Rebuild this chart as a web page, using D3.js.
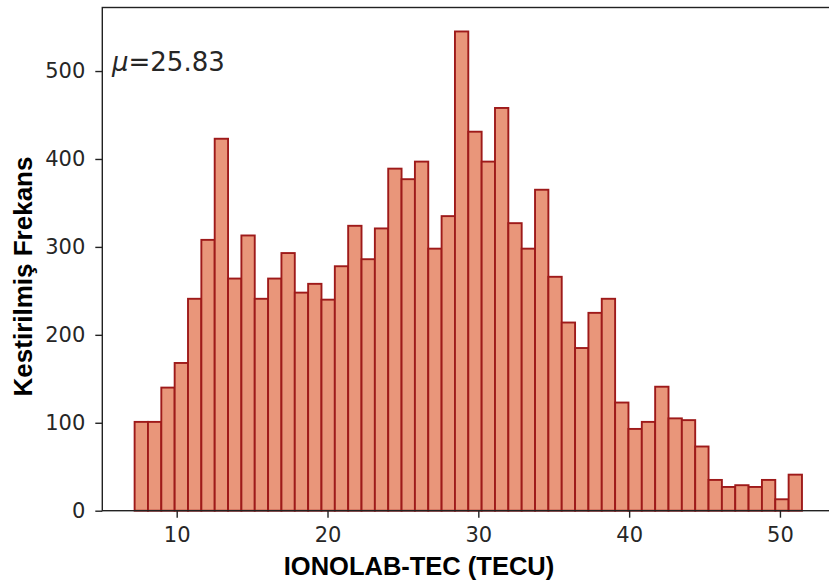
<!DOCTYPE html>
<html>
<head>
<meta charset="utf-8">
<script src="https://cdn.jsdelivr.net/npm/d3@7"></script>
<style>
  html, body { margin: 0; padding: 0; background: #fff; }
  svg { display: block; }
</style>
</head>
<body>
<svg id="chart" width="829" height="583"></svg>
<script>
// ---- data ----
const binStart = 7.21;
const binWidth = 0.885;
const counts = [101, 101, 140, 168, 241, 308, 423, 264, 313, 241,
                264, 293, 248, 258, 240, 278, 324, 286, 321, 389,
                377, 397, 298, 335, 545, 431, 397, 458, 327, 298,
                365, 266, 214, 185, 225, 241, 123, 93, 101, 141,
                105, 103, 73, 35, 27, 29, 27, 35, 13, 41];
const xTicks = [10, 20, 30, 40, 50];
const yTicks = [0, 100, 200, 300, 400, 500];
const meanLabel = "25.83";
const xLabel = "IONOLAB-TEC (TECU)";
const yLabel = "Kestirilmiş Frekans";

const bins = counts.map((c, i) => ({x0: binStart + i * binWidth, x1: binStart + (i + 1) * binWidth, n: c}));

// ---- layout ----
const mLeft = 102.3, mRight = 835, mTop = 7.5, mBottom = 510.7;
const svg = d3.select("#chart");

const x = d3.scaleLinear().domain([5.067, 53.65]).range([mLeft, mRight]);
const y = d3.scaleLinear().domain([0, d3.max(counts) * 1.05]).range([mBottom, mTop]);

// bars
svg.append("g").selectAll("rect").data(bins).join("rect")
  .attr("x", d => x(d.x0))
  .attr("y", d => y(d.n))
  .attr("width", d => x(d.x1) - x(d.x0))
  .attr("height", d => y(0) - y(d.n))
  .attr("fill", "#E9967A")
  .attr("stroke", "#9e1a1a")
  .attr("stroke-width", 1.9);

// axes
const tickColor = "#262626";
const xAxis = d3.axisBottom(x).tickValues(xTicks).tickSize(7).tickPadding(9).tickFormat(d3.format("d"));
const gx = svg.append("g").attr("transform", `translate(0,${mBottom})`).call(xAxis);
const yAxis = d3.axisLeft(y).tickValues(yTicks).tickSize(7).tickPadding(10).tickFormat(d3.format("d"));
const gy = svg.append("g").attr("transform", `translate(${mLeft},0)`).call(yAxis);

[gx, gy].forEach(g => {
  g.select(".domain").remove();
  g.selectAll(".tick line").attr("stroke", "#222").attr("stroke-width", 1.4);
  g.selectAll(".tick text")
    .attr("fill", tickColor)
    .style("font-family", "'DejaVu Sans', sans-serif")
    .style("font-size", "21px");
});
gx.selectAll(".tick text").attr("dy", "0.71em");

// spines
svg.append("rect")
  .attr("x", mLeft).attr("y", mTop)
  .attr("width", mRight - mLeft).attr("height", mBottom - mTop)
  .attr("fill", "none").attr("stroke", "#222").attr("stroke-width", 1.4);

// mean annotation
const mt = svg.append("text")
  .attr("x", 112).attr("y", 71)
  .attr("fill", tickColor)
  .style("font-family", "'DejaVu Sans', sans-serif")
  .style("font-size", "26px");
mt.append("tspan").style("font-style", "italic").text("μ");
mt.append("tspan").text("=" + meanLabel);

// axis labels
svg.append("text")
  .attr("x", 419).attr("y", 575)
  .attr("text-anchor", "middle")
  .attr("fill", "#000")
  .style("font-family", "'Liberation Sans', Arial, sans-serif")
  .style("font-weight", "bold")
  .style("font-size", "25.5px")
  .text(xLabel);

svg.append("text")
  .attr("transform", "translate(32,276.5) rotate(-90)")
  .attr("text-anchor", "middle")
  .attr("fill", "#000")
  .style("font-family", "'Liberation Sans', Arial, sans-serif")
  .style("font-weight", "bold")
  .style("font-size", "26px")
  .text(yLabel);
</script>
</body>
</html>
